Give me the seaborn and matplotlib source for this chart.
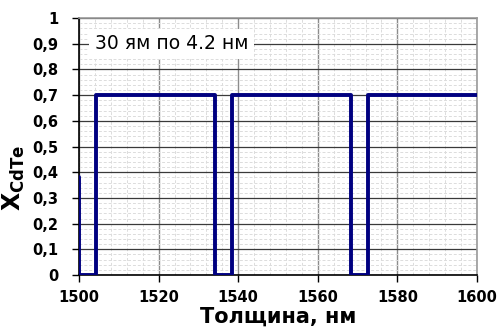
import matplotlib
matplotlib.use("Agg")
import matplotlib.pyplot as plt
import seaborn as sns
import pandas as pd
from matplotlib.ticker import MultipleLocator

# Composition profile: layer edges (nm) and CdTe fraction held from each edge
thickness = [1500.0, 1500.0, 1504.2, 1534.2, 1538.4, 1568.4, 1572.6, 1600.0]
x_cdte = [0.38, 0.0, 0.7, 0.0, 0.7, 0.0, 0.7, 0.7]

x_ticks = [1500, 1520, 1540, 1560, 1580, 1600]
y_ticks = [0, 0.1, 0.2, 0.3, 0.4, 0.5, 0.6, 0.7, 0.8, 0.9, 1.0]
y_tick_labels = ["0", "0,1", "0,2", "0,3", "0,4", "0,5", "0,6", "0,7", "0,8", "0,9", "1"]
note = "30 ям по 4.2 нм"

sns.set_theme(style="white")
plt.rcParams["font.family"] = ["DejaVu Sans"]
plt.rcParams["mathtext.fontset"] = "dejavusans"

df = pd.DataFrame({"Толщина": thickness, "X": x_cdte})

fig = plt.figure(figsize=(5.0, 3.29), dpi=100)
ax = fig.add_axes([0.158, 0.164, 0.796, 0.781])

# grid: dark major lines, light dashed minor lines
ax.xaxis.set_minor_locator(MultipleLocator(4))
ax.yaxis.set_minor_locator(MultipleLocator(0.02))
ax.grid(which="minor", color="#dcdcdc", linewidth=0.7, linestyle=(0, (3, 2)))
ax.grid(which="major", axis="x", color="#8c8c8c", linewidth=1.0)
ax.grid(which="major", axis="y", color="#3a3a3a", linewidth=0.9)
ax.set_axisbelow(True)

sns.lineplot(data=df, x="Толщина", y="X", drawstyle="steps-post",
             estimator=None, sort=False, color="#000080", linewidth=2.8,
             ax=ax, zorder=3)

ax.set_xlim(1500, 1600)
ax.set_ylim(0, 1)
ax.set_xticks(x_ticks)
ax.set_xticklabels([str(t) for t in x_ticks], fontweight="bold", fontsize=10.5)
ax.set_yticks(y_ticks)
ax.set_yticklabels(y_tick_labels, fontweight="bold", fontsize=10.5)

ax.tick_params(axis="both", which="major", direction="out", length=5, width=1,
               color="black", left=True, bottom=True, labelcolor="black")
ax.tick_params(axis="y", which="major", pad=10)
ax.tick_params(axis="x", which="major", pad=6)
ax.tick_params(axis="both", which="minor", length=0)

for side in ("left", "bottom"):
    ax.spines[side].set_color("black")
    ax.spines[side].set_linewidth(1.2)
for side in ("top", "right"):
    ax.spines[side].set_color("#9a9a9a")
    ax.spines[side].set_linewidth(1.2)

ax.set_xlabel("Толщина, нм", fontsize=15, fontweight="bold", labelpad=1, color="black")
ax.set_ylabel(r"$\mathbf{X_{CdTe}}$", fontsize=17, color="black")
ax.yaxis.set_label_coords(-0.13, 0.38)

ax.text(1504.0, 0.9, note, fontsize=13.5, va="center", ha="left", zorder=4,
        color="black",
        bbox=dict(boxstyle="square,pad=0.3", facecolor="white", edgecolor="none"))

fig.savefig("out.png", dpi=100)
